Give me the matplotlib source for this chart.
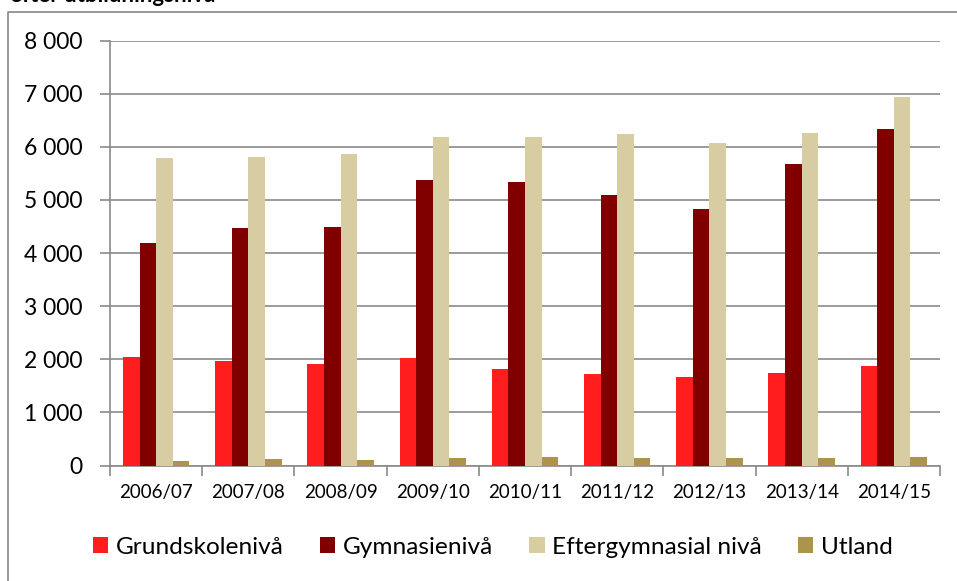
import matplotlib
matplotlib.use("Agg")
import matplotlib.pyplot as plt
from matplotlib.lines import Line2D
from matplotlib.ticker import FuncFormatter, MultipleLocator
import numpy as np

plt.rcParams['font.family'] = ['Lato', 'DejaVu Sans']

# läsår
years = ["2006/07", "2007/08", "2008/09", "2009/10", "2010/11",
         "2011/12", "2012/13", "2013/14", "2014/15"]

grundskola = [2035, 1965, 1915, 2020, 1815, 1720, 1675, 1735, 1875]
gymnasium = [4180, 4465, 4490, 5365, 5340, 5090, 4820, 5680, 6335]
eftergymn = [5785, 5800, 5855, 6185, 6190, 6235, 6075, 6265, 6945]
utland = [88, 118, 106, 132, 162, 137, 133, 137, 156]

series_names = ["Grundskolenivå", "Gymnasienivå", "Eftergymnasial nivå", "Utland"]
colors = ["#ff1d1d", "#800000", "#d8cca2", "#ad944e"]

fig = plt.figure(figsize=(9.57, 5.81), dpi=100)
ax = fig.add_axes([110 / 957, 1 - 465.5 / 581, 830 / 957, 425 / 581])

x = np.arange(len(years))
w = 0.18
for i, vals in enumerate([grundskola, gymnasium, eftergymn, utland]):
    ax.bar(x + (i - 1.5) * w, vals, w, color=colors[i], label=series_names[i],
           zorder=3, linewidth=0)

grid_c = "#8a8a8a"
ax.set_ylim(0, 8000)
ax.set_xlim(-0.5, len(years) - 0.5)
ax.yaxis.set_major_locator(MultipleLocator(1000))
ax.yaxis.set_major_formatter(FuncFormatter(lambda v, p: f"{int(v):,}".replace(",", " ")))
ax.grid(axis="y", color=grid_c, linewidth=1.2, zorder=0)

ax.set_xticks(x)
ax.set_xticklabels(years)
ax.set_xticks(np.arange(-0.5, len(years)), minor=True)
ax.tick_params(axis="x", which="major", length=0, pad=13, labelsize=13.5)
ax.tick_params(axis="x", which="minor", length=7, width=1.2, color=grid_c)
ax.tick_params(axis="y", length=7, width=1.2, color=grid_c, pad=13, labelsize=16.5)

for s in ["top", "right"]:
    ax.spines[s].set_visible(False)
for s in ["left", "bottom"]:
    ax.spines[s].set_color(grid_c)
    ax.spines[s].set_linewidth(1.2)

fig.legend(loc="center", bbox_to_anchor=(0.515, 1 - 547 / 581), ncol=4,
           frameon=False, fontsize=17.6, handlelength=0.62, handleheight=0.62,
           handletextpad=0.3, columnspacing=1.5)

# ram runt diagrammet
fig.add_artist(Line2D([8 / 957, 8 / 957, 1.0], [0.0, 1 - 12 / 581, 1 - 12 / 581],
                      transform=fig.transFigure, color="#878787", linewidth=1.2))

fig.text(10 / 957, 1 - 2 / 581, "efter utbildningsnivå", fontsize=16,
         fontweight="bold", va="baseline", ha="left")

fig.savefig("out.png", dpi=100)
